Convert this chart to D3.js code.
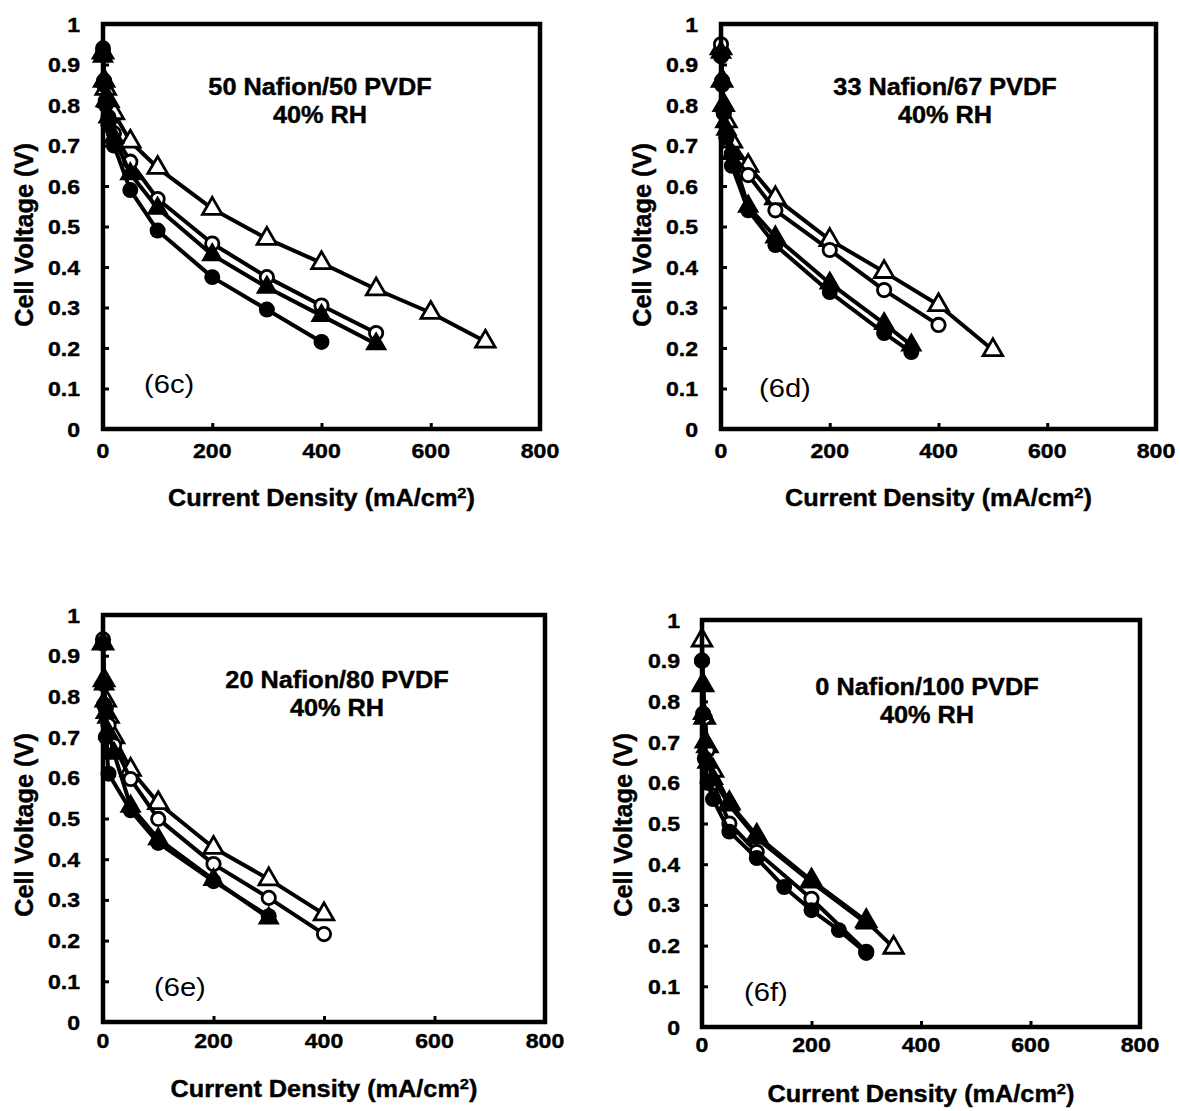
<!DOCTYPE html>
<html>
<head>
<meta charset="utf-8">
<script src="https://cdn.jsdelivr.net/npm/d3@7/dist/d3.min.js"></script>
<style>
  html, body { margin: 0; padding: 0; background: #fff; }
  svg { display: block; }
</style>
</head>
<body>
<svg id="chart" width="1180" height="1111"></svg>
<script>
// ---- Axis ticks ----
const xTickValues = [0, 200, 400, 600, 800];
const yTickValues = [0, 0.1, 0.2, 0.3, 0.4, 0.5, 0.6, 0.7, 0.8, 0.9, 1];

// ---- Panel text ----
const panelTags = ["(6c)", "(6d)", "(6e)", "(6f)"];
const panelBlends = ["50 Nafion/50 PVDF", "33 Nafion/67 PVDF", "20 Nafion/80 PVDF", "0 Nafion/100 PVDF"];
const humidity = "40% RH";
const xTitle = "Current Density (mA/cm";
const yTitle = "Cell Voltage (V)";

// ---- Polarization curves: [current density mA/cm2, cell voltage V] ----
// 50 Nafion / 50 PVDF
const c_filledCircle = [[0,0.94],[2,0.85],[5,0.80],[10,0.75],[20,0.70],[50,0.59],[100,0.49],[200,0.375],[300,0.295],[400,0.215]];
const c_openCircle   = [[0,0.93],[2,0.86],[5,0.81],[10,0.77],[20,0.73],[50,0.66],[100,0.568],[200,0.458],[300,0.375],[400,0.305],[500,0.237]];
const c_filledTri    = [[0,0.92],[2,0.86],[5,0.81],[10,0.77],[20,0.72],[50,0.63],[100,0.545],[200,0.43],[300,0.35],[400,0.28],[500,0.21]];
const c_openTri      = [[0,0.93],[2,0.86],[5,0.84],[10,0.81],[20,0.78],[50,0.71],[100,0.645],[200,0.544],[300,0.47],[400,0.41],[500,0.345],[600,0.287],[700,0.216]];
// 33 Nafion / 67 PVDF
const d_filledCircle = [[0,0.92],[2,0.85],[5,0.78],[10,0.72],[20,0.65],[50,0.54],[100,0.454],[200,0.338],[300,0.237],[350,0.19]];
const d_openCircle   = [[0,0.95],[2,0.86],[5,0.78],[10,0.72],[20,0.68],[50,0.627],[100,0.54],[200,0.442],[300,0.343],[400,0.257]];
const d_filledTri    = [[0,0.93],[2,0.86],[5,0.80],[10,0.74],[20,0.68],[50,0.55],[100,0.474],[200,0.36],[300,0.26],[350,0.207]];
const d_openTri      = [[0,0.94],[2,0.86],[5,0.80],[10,0.76],[20,0.71],[50,0.65],[100,0.57],[200,0.467],[300,0.388],[400,0.306],[500,0.195]];
// 20 Nafion / 80 PVDF
const e_filledCircle = [[0,0.93],[2,0.78],[5,0.70],[10,0.61],[50,0.52],[100,0.44],[200,0.346],[300,0.26]];
const e_openCircle   = [[0,0.94],[2,0.83],[5,0.77],[10,0.73],[20,0.68],[50,0.597],[100,0.499],[200,0.388],[300,0.305],[400,0.216]];
const e_filledTri    = [[0,0.93],[2,0.83],[5,0.76],[10,0.71],[20,0.66],[50,0.53],[100,0.45],[200,0.35],[300,0.255]];
const e_openTri      = [[0,0.93],[2,0.84],[5,0.79],[10,0.75],[20,0.70],[50,0.62],[100,0.538],[200,0.428],[300,0.351],[400,0.265]];
// 0 Nafion / 100 PVDF
const f_filledCircle = [[0,0.90],[2,0.77],[5,0.66],[10,0.60],[20,0.56],[50,0.48],[100,0.415],[150,0.344],[200,0.287],[250,0.238],[300,0.182]];
const f_openCircle   = [[0,0.90],[5,0.76],[10,0.68],[20,0.60],[50,0.50],[100,0.43],[200,0.315],[300,0.185]];
const f_filledTri    = [[0,0.84],[2,0.77],[5,0.70],[10,0.65],[20,0.61],[50,0.545],[100,0.464],[200,0.356],[300,0.255]];
const f_openTri      = [[0,0.95],[2,0.84],[5,0.76],[10,0.69],[20,0.63],[50,0.55],[100,0.47],[200,0.36],[300,0.26],[350,0.195]];

// Drawn back to front: open triangles, open circles, filled triangles, filled circles
const panelSeries = [
  [c_openTri, c_openCircle, c_filledTri, c_filledCircle],
  [d_openTri, d_openCircle, d_filledTri, d_filledCircle],
  [e_openTri, e_openCircle, e_filledTri, e_filledCircle],
  [f_openTri, f_openCircle, f_filledTri, f_filledCircle]
];
const markerKinds = ["openTri", "openCircle", "filledTri", "filledCircle"];

// ---- Page layout for the four panels ----
const layouts = [
  {x0:103, x1:540,  yb:429,  yt:24,  titleX:320, titleY:95,  tagX:144, tagY:393,  yTitleX:33,  yTitleY:235, yTickX:80,  xTickY:458,  xTitleY:506},
  {x0:721, x1:1156, yb:429,  yt:24,  titleX:945, titleY:95,  tagX:759, tagY:397,  yTitleX:651, yTitleY:235, yTickX:698, xTickY:458,  xTitleY:506},
  {x0:103, x1:545,  yb:1022, yt:615, titleX:337, titleY:688, tagX:154, tagY:996,  yTitleX:33,  yTitleY:825, yTickX:80,  xTickY:1048, xTitleY:1097},
  {x0:702, x1:1140, yb:1027, yt:620, titleX:927, titleY:695, tagX:744, tagY:1001, yTitleX:632, yTitleY:825, yTickX:680, xTickY:1052, xTitleY:1102}
];

const FONT = "'Liberation Sans', Arial, Helvetica, sans-serif";
const svg = d3.select("#chart");

function label(g, x, y, s, size, weight, anchor) {
  const t = g.append("text")
    .attr("transform", `translate(${x},${y}) scale(1.1,1)`)
    .attr("font-family", FONT)
    .attr("font-size", size)
    .attr("font-weight", weight)
    .attr("text-anchor", anchor)
    .attr("fill", "#000")
    .text(s);
  if (weight === "bold") t.attr("stroke", "#000").attr("stroke-width", 0.4);
  return t;
}

const triSymbol = d3.symbol().type(d3.symbolTriangle).size(165);
const dotSymbol = d3.symbol().type(d3.symbolCircle).size(200);
const ringSymbol = d3.symbol().type(d3.symbolCircle).size(140);

layouts.forEach((L, i) => {
  const g = svg.append("g");
  const x = d3.scaleLinear().domain([0, 800]).range([L.x0, L.x1]);
  const y = d3.scaleLinear().domain([0, 1]).range([L.yb, L.yt]);

  // Inward tick marks
  const xAxis = d3.axisTop(x).tickValues(xTickValues.slice(1, -1)).tickSize(6).tickFormat("");
  const yAxis = d3.axisRight(y).tickValues(yTickValues.slice(1, -1)).tickSize(6).tickFormat("");
  g.append("g").attr("transform", `translate(0,${L.yb})`).call(xAxis)
    .call(a => a.select(".domain").remove())
    .selectAll("line").attr("stroke", "#000").attr("stroke-width", 3);
  g.append("g").attr("transform", `translate(${L.x0},0)`).call(yAxis)
    .call(a => a.select(".domain").remove())
    .selectAll("line").attr("stroke", "#000").attr("stroke-width", 3);

  // Tick labels
  xTickValues.forEach(v => label(g, x(v), L.xTickY, String(v), 21, "bold", "middle"));
  yTickValues.forEach(v => label(g, L.yTickX, y(v) + 7.5, d3.format("")(+v.toFixed(1)), 21, "bold", "end"));

  // Curves
  const line = d3.line().x(d => x(d[0])).y(d => y(d[1]));
  panelSeries[i].forEach((pts, k) => {
    g.append("path").datum(pts)
      .attr("d", line)
      .attr("fill", "none")
      .attr("stroke", "#000")
      .attr("stroke-width", 4)
      .attr("stroke-linejoin", "round");
    const kind = markerKinds[k];
    const m = g.append("g").selectAll("path").data(pts).join("path")
      .attr("transform", d => `translate(${x(d[0])},${y(d[1])})`);
    if (kind === "filledCircle") {
      m.attr("d", dotSymbol()).attr("fill", "#000");
    } else if (kind === "openCircle") {
      m.attr("d", ringSymbol()).attr("fill", "#fff").attr("stroke", "#000").attr("stroke-width", 2.8);
    } else if (kind === "filledTri") {
      m.attr("d", triSymbol()).attr("fill", "#000").attr("stroke", "#000").attr("stroke-width", 1.5);
    } else {
      m.attr("d", triSymbol()).attr("fill", "#fff").attr("stroke", "#000").attr("stroke-width", 2.8);
    }
  });

  // Frame
  g.append("rect")
    .attr("x", L.x0).attr("y", L.yt)
    .attr("width", L.x1 - L.x0).attr("height", L.yb - L.yt)
    .attr("fill", "none").attr("stroke", "#000").attr("stroke-width", 4.5);

  // Panel title and tag
  const t = g.append("text").attr("font-family", FONT).attr("font-weight", "bold")
    .attr("font-size", 23).attr("text-anchor", "middle")
    .attr("stroke", "#000").attr("stroke-width", 0.4)
    .attr("transform", `translate(${L.titleX},${L.titleY}) scale(1.1,1)`);
  t.append("tspan").attr("x", 0).attr("y", 0).text(panelBlends[i]);
  t.append("tspan").attr("x", 0).attr("y", 28).text(humidity);
  label(g, L.tagX, L.tagY, panelTags[i], 26.5, "normal", "start");

  // Axis titles
  const xt = g.append("text").attr("font-family", FONT).attr("font-weight", "bold")
    .attr("font-size", 23).attr("text-anchor", "middle")
    .attr("stroke", "#000").attr("stroke-width", 0.4)
    .attr("transform", `translate(${(L.x0 + L.x1) / 2},${L.xTitleY}) scale(1.1,1)`);
  xt.append("tspan").text(xTitle);
  xt.append("tspan").attr("font-size", 15).attr("dy", -8).text("2");
  xt.append("tspan").attr("dy", 8).text(")");

  g.append("text").attr("font-family", FONT).attr("font-weight", "bold")
    .attr("font-size", 23).attr("text-anchor", "middle")
    .attr("stroke", "#000").attr("stroke-width", 0.4)
    .attr("transform", `translate(${L.yTitleX},${L.yTitleY}) scale(1.1,1.1) rotate(-90)`)
    .text(yTitle);
});
</script>
</body>
</html>
